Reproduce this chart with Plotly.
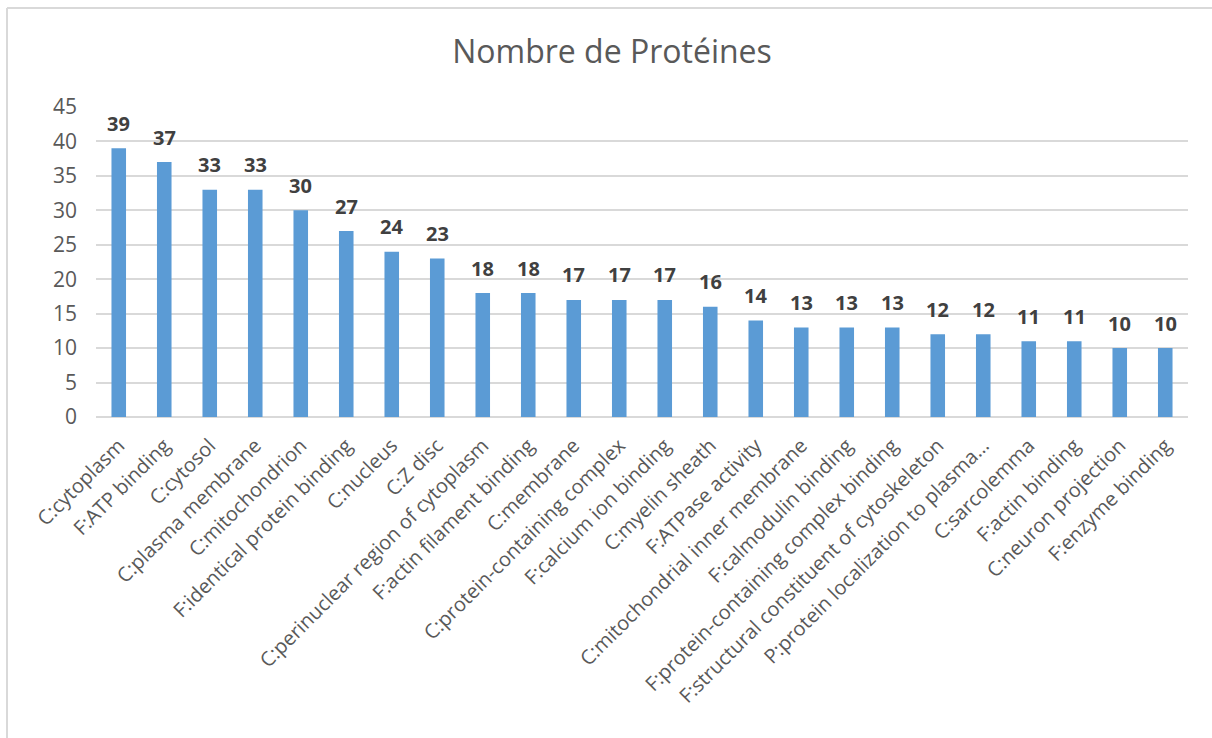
import plotly.graph_objects as go

categories = [
    "C:cytoplasm", "F:ATP binding", "C:cytosol", "C:plasma membrane",
    "C:mitochondrion", "F:identical protein binding", "C:nucleus", "C:Z disc",
    "C:perinuclear region of cytoplasm", "F:actin filament binding",
    "C:membrane", "C:protein-containing complex", "F:calcium ion binding",
    "C:myelin sheath", "F:ATPase activity", "C:mitochondrial inner membrane",
    "F:calmodulin binding", "F:protein-containing complex binding",
    "F:structural constituent of cytoskeleton",
    "P:protein localization to plasma\u2026", "C:sarcolemma",
    "F:actin binding", "C:neuron projection", "F:enzyme binding",
]
counts = [39, 37, 33, 33, 30, 27, 24, 23, 18, 18, 17, 17, 17, 16, 14,
          13, 13, 13, 12, 12, 11, 11, 10, 10]
y_ticks = [0, 5, 10, 15, 20, 25, 30, 35, 40, 45]

W, H = 1212, 738
ML, MR, MT, MB = 96, 24, 107, 321
pw, ph = W - ML - MR, H - MT - MB

def px_x(p):
    return (p - ML) / pw

def px_y(p):
    return (H - MB - p) / ph

FONT = "Open Sans"
GREY = "#595959"

fig = go.Figure(go.Bar(
    x=categories, y=counts,
    marker=dict(color="#5B9BD5", line=dict(width=0)),
    hoverinfo="x+y",
))

for c, v in zip(categories, counts):
    fig.add_annotation(
        x=c, y=v, text=str(v), showarrow=False,
        yanchor="middle", yshift=25,
        font=dict(family=FONT, size=20, color="#404040", weight="bold"),
    )

# chart-area frame (left and top edges)
fig.add_shape(type="line", xref="paper", yref="paper",
              x0=px_x(7), x1=px_x(7), y0=px_y(8), y1=px_y(740),
              line=dict(color="#D9D9D9", width=2))
fig.add_shape(type="line", xref="paper", yref="paper",
              x0=px_x(7), x1=px_x(1214), y0=px_y(8), y1=px_y(8),
              line=dict(color="#D9D9D9", width=2))

fig.update_layout(
    width=W, height=H,
    margin=dict(l=ML, r=MR, t=MT, b=MB),
    paper_bgcolor="white", plot_bgcolor="white",
    bargap=0.68,
    showlegend=False,
    title=dict(text="Nombre de Protéines", x=612 / W, xref="container",
               xanchor="center", y=1 - 52 / H, yanchor="middle",
               font=dict(family=FONT, size=32, color=GREY)),
    xaxis=dict(
        tickangle=-45, tickfont=dict(family=FONT, size=20, color=GREY),
        showgrid=False, showline=False, ticks="", ticklen=0,
        ticklabelstandoff=12,
        automargin=False,
    ),
    yaxis=dict(
        range=[0, 45], tickvals=y_ticks,
        tickfont=dict(family=FONT, size=21, color=GREY),
        showgrid=True, gridcolor="#D9D9D9", gridwidth=1.5,
        zeroline=True, zerolinecolor="#D9D9D9", zerolinewidth=1.5,
        showline=False, ticks="", ticklabelstandoff=18,
        automargin=False,
    ),
)

fig.write_html("out.html")
